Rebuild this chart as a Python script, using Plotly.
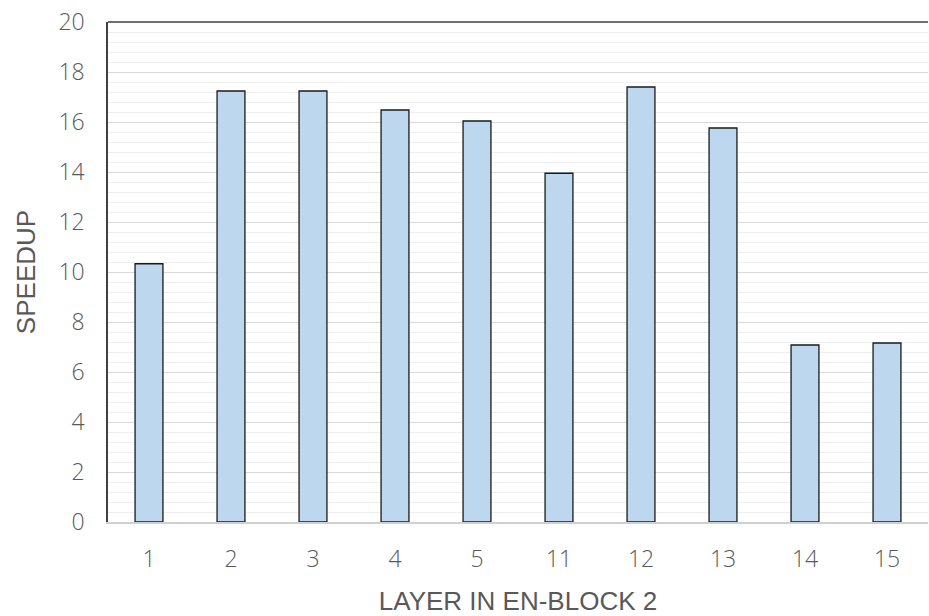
import plotly.graph_objects as go

layers = ["1", "2", "3", "4", "5", "11", "12", "13", "14", "15"]
speedup = [10.33, 17.24, 17.24, 16.48, 16.04, 13.95, 17.40, 15.76, 7.08, 7.16]
y_ticks = [0, 2, 4, 6, 8, 10, 12, 14, 16, 18, 20]

fig = go.Figure()
fig.add_trace(go.Bar(
    x=layers, y=speedup,
    marker=dict(color="#bdd7ee", line=dict(color="#1a1a1a", width=1.3)),
    width=0.34,
))

tick_font = dict(family="Open Sans, Noto Sans, sans-serif", size=23, color="#595959", weight=300)
title_font = dict(family="Liberation Sans, Arial, sans-serif", size=26, color="#595959")

fig.update_layout(
    width=929, height=616,
    margin=dict(l=108, r=1, t=22, b=94),
    plot_bgcolor="white", paper_bgcolor="white",
    showlegend=False,
    xaxis=dict(
        type="category",
        tickfont=tick_font,
        showline=True, linecolor="#d0d0d0", linewidth=2,
        ticks="outside", ticklen=15, tickcolor="rgba(0,0,0,0)",
        title=dict(text="LAYER IN EN-BLOCK 2", font=title_font, standoff=22),
        showgrid=False,
    ),
    yaxis=dict(
        range=[0, 20],
        tickvals=y_ticks,
        tickfont=tick_font,
        ticklabelstandoff=17,
        showline=True, linecolor="#404040", linewidth=1.5,
        gridcolor="#d9d9d9", gridwidth=1,
        minor=dict(dtick=0.4, showgrid=True, gridcolor="#efefef", gridwidth=1),
        zeroline=False,
        title=dict(text="SPEEDUP", font=title_font, standoff=15),
    ),
)
fig.add_shape(type="line", xref="paper", yref="paper", x0=0, x1=1, y0=1, y1=1,
              line=dict(color="#404040", width=1.5))

fig.write_html("out.html", config={"displayModeBar": False},
               post_script="document.body.style.margin='0';document.body.style.overflow='hidden';")
